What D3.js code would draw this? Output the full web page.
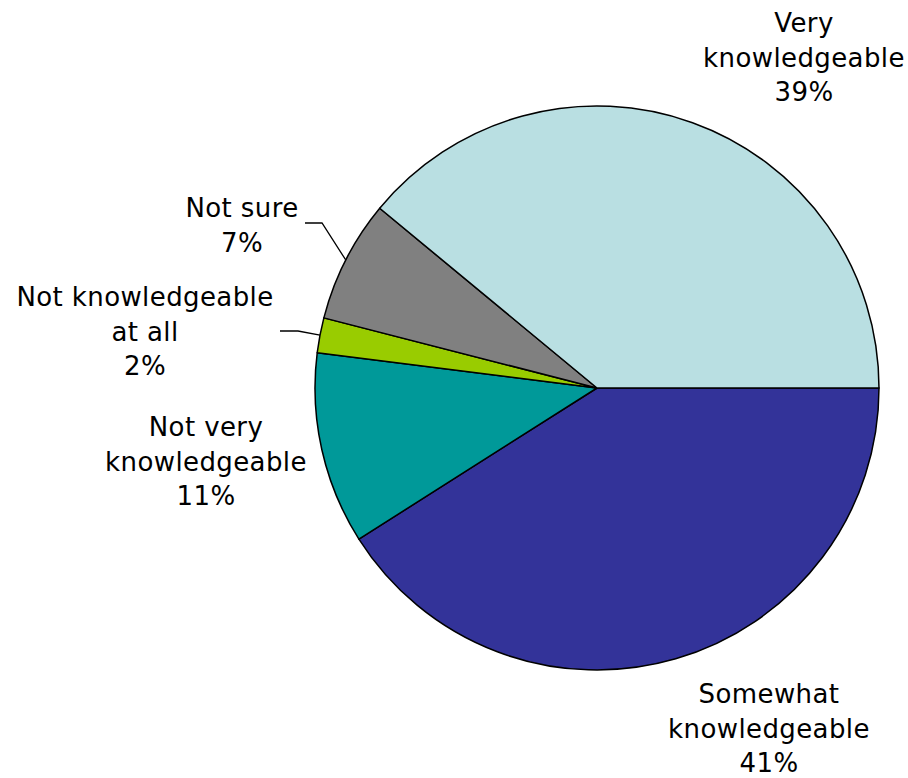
<!DOCTYPE html>
<html>
<head>
<meta charset="utf-8">
<script src="https://cdn.jsdelivr.net/npm/d3@7"></script>
<style>
  html, body { margin: 0; padding: 0; background: #fff; }
  svg text { font-family: "DejaVu Sans", Verdana, sans-serif; font-size: 26px; fill: #000; letter-spacing: 0.4px; }
</style>
</head>
<body>
<svg id="chart" width="908" height="778"></svg>
<script>
// Survey answers, clockwise from 3 o'clock
const categories = [
  "Somewhat knowledgeable",
  "Not very knowledgeable",
  "Not knowledgeable at all",
  "Not sure",
  "Very knowledgeable"
];
const values = [41, 11, 2, 7, 39];
const labelLines = [
  ["Somewhat", "knowledgeable", "41%"],
  ["Not very", "knowledgeable", "11%"],
  ["Not knowledgeable", "at all", "2%"],
  ["Not sure", "7%"],
  ["Very", "knowledgeable", "39%"]
];
const colors = ["#333399", "#009999", "#99CC00", "#808080", "#B9DFE2"];

// Label placement: centre x and first baseline y of each block of text
const labelPos = [
  { x: 769, y: 703 },
  { x: 206, y: 436 },
  { x: 145, y: 306 },
  { x: 242, y: 217 },
  { x: 804, y: 32 }
];
// Slices whose labels are joined to the pie by a leader line
const leaders = { 2: { x: 280, y: 331, elbow: 298 }, 3: { x: 305, y: 223, elbow: 322 } };

const cx = 597, cy = 388, radius = 282, lineH = 34.7;
const svg = d3.select("#chart");
const g = svg.append("g").attr("transform", `translate(${cx},${cy})`);

const pie = d3.pie().sort(null).value(d => d)
  .startAngle(Math.PI / 2).endAngle(Math.PI / 2 + 2 * Math.PI);
const arcs = pie(values);
const arc = d3.arc().innerRadius(0).outerRadius(radius);

g.selectAll("path.slice")
  .data(arcs)
  .join("path")
  .attr("class", "slice")
  .attr("d", arc)
  .attr("fill", (d, i) => colors[i])
  .attr("stroke", "#000")
  .attr("stroke-width", 1.5)
  .attr("stroke-linejoin", "round");

// Leader lines from the label to the slice's outer edge
arcs.forEach((d, i) => {
  const L = leaders[i];
  if (!L) return;
  const mid = (d.startAngle + d.endAngle) / 2;
  const ex = cx + Math.sin(mid) * radius;
  const ey = cy - Math.cos(mid) * radius;
  svg.append("polyline")
    .attr("points", `${L.x},${L.y} ${L.elbow},${L.y} ${ex},${ey}`)
    .attr("fill", "none")
    .attr("stroke", "#000")
    .attr("stroke-width", 1.3);
});

// Category labels with percentages
labelLines.forEach((lines, i) => {
  const t = svg.append("text")
    .attr("text-anchor", "middle");
  lines.forEach((s, j) => {
    t.append("tspan")
      .attr("x", labelPos[i].x)
      .attr("y", labelPos[i].y + j * lineH)
      .text(s);
  });
});
</script>
</body>
</html>
